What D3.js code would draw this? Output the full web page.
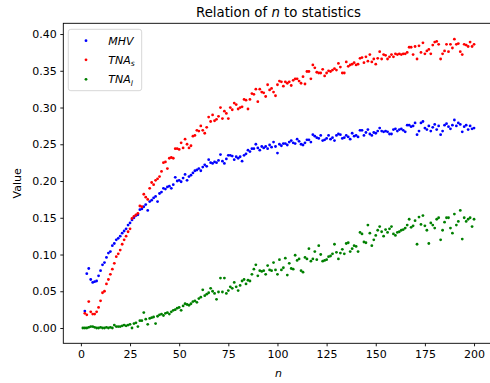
<!DOCTYPE html>
<html lang="en">
<head>
<meta charset="UTF-8">
<title>Relation of n to statistics</title>
<script src="https://d3js.org/d3.v7.min.js"></script>
<style>
    body { margin: 0; background: #fff; }
    text { font-family: "DejaVu Sans", sans-serif; fill: #000; }
</style>
</head>
<body>
<svg id="chart"></svg>
<script>

    // MHV and TNA_s start at n = 2, TNA_l at n = 1
    const mhv = [
        0.023,0.074,0.081,0.066,0.062,0.063,0.064,0.071,
        0.078,0.086,0.089,0.096,0.102,0.104,0.112,0.115,0.120,0.122,
        0.125,0.129,0.132,0.135,0.140,0.143,0.147,0.150,0.153,0.154,
        0.161,0.162,0.165,0.168,0.160,0.172,0.174,0.177,0.179,0.172,
        0.183,0.185,0.190,0.189,0.192,0.193,0.190,0.195,0.205,0.200,
        0.201,0.199,0.204,0.209,0.201,0.206,0.208,0.211,0.214,0.215,
        0.217,0.214,0.219,0.222,0.220,0.229,0.225,0.224,0.226,0.225,
        0.228,0.236,0.227,0.224,0.230,0.235,0.235,0.234,0.229,0.233,
        0.231,0.233,0.227,0.235,0.237,0.242,0.240,0.244,0.244,0.250,
        0.245,0.242,0.247,0.245,0.247,0.244,0.249,0.246,0.253,0.247,
        0.238,0.250,0.248,0.251,0.251,0.249,0.253,0.255,0.252,0.251,
        0.257,0.254,0.250,0.249,0.252,0.256,0.256,0.253,0.263,0.261,
        0.259,0.258,0.262,0.255,0.256,0.258,0.262,0.257,0.259,0.255,
        0.262,0.264,0.263,0.258,0.259,0.262,0.260,0.257,0.265,0.261,
        0.262,0.260,0.269,0.269,0.262,0.266,0.270,0.264,0.262,0.266,
        0.265,0.268,0.272,0.268,0.267,0.268,0.267,0.264,0.264,0.270,
        0.271,0.268,0.270,0.271,0.269,0.267,0.276,0.276,0.274,0.275,
        0.279,0.263,0.268,0.279,0.281,0.272,0.270,0.275,0.268,0.273,
        0.277,0.270,0.275,0.263,0.268,0.276,0.278,0.274,0.271,0.276,
        0.283,0.275,0.279,0.277,0.267,0.274,0.276,0.270,0.275,0.271,0.272
    ];
    const tnaS = [
        0.020,0.018,0.036,0.022,0.019,0.019,0.022,0.028,
        0.037,0.048,0.050,0.060,0.066,0.073,0.080,0.088,0.097,0.101,
        0.106,0.114,0.120,0.125,0.131,0.135,0.149,0.152,0.154,0.156,
        0.166,0.165,0.182,0.178,0.175,0.190,0.198,0.195,0.201,0.203,
        0.206,0.213,0.225,0.226,0.217,0.231,0.232,0.231,0.244,0.244,
        0.243,0.252,0.245,0.257,0.250,0.245,0.248,0.261,0.262,0.269,
        0.268,0.275,0.269,0.265,0.273,0.287,0.281,0.290,0.282,0.284,
        0.288,0.300,0.285,0.295,0.292,0.285,0.300,0.297,0.306,0.304,
        0.298,0.300,0.301,0.311,0.310,0.298,0.311,0.319,0.318,0.325,
        0.308,0.325,0.321,0.320,0.315,0.331,0.324,0.326,0.321,0.316,
        0.331,0.336,0.335,0.329,0.335,0.333,0.335,0.330,0.337,0.339,
        0.339,0.336,0.333,0.342,0.332,0.349,0.349,0.339,0.358,0.354,
        0.348,0.347,0.347,0.352,0.343,0.347,0.350,0.349,0.351,0.353,
        0.351,0.360,0.355,0.347,0.347,0.362,0.356,0.358,0.359,0.361,
        0.358,0.359,0.367,0.368,0.361,0.369,0.363,0.372,0.362,0.366,
        0.359,0.367,0.376,0.366,0.372,0.371,0.366,0.369,0.372,0.369,
        0.373,0.372,0.373,0.372,0.373,0.373,0.375,0.382,0.382,0.372,
        0.383,0.366,0.384,0.375,0.388,0.373,0.377,0.379,0.373,0.385,
        0.389,0.390,0.386,0.366,0.373,0.377,0.386,0.376,0.386,0.381,
        0.393,0.386,0.387,0.376,0.372,0.386,0.385,0.383,0.389,0.383,0.386
    ];
    const tnaL = [
        0.000,0.000,0.000,0.001,0.002,0.002,0.001,0.000,0.000,0.001,
        0.000,0.000,0.001,0.000,0.001,0.000,0.004,0.002,0.002,0.002,
        0.003,0.004,0.003,0.004,0.005,0.000,0.006,0.007,0.002,0.010,
        0.010,0.021,0.012,0.005,0.013,0.014,0.015,0.006,0.016,0.018,
        0.019,0.017,0.020,0.021,0.019,0.022,0.024,0.025,0.027,0.028,
        0.024,0.030,0.033,0.032,0.031,0.033,0.036,0.037,0.035,0.040,
        0.042,0.052,0.044,0.046,0.048,0.054,0.050,0.047,0.039,0.049,
        0.068,0.049,0.068,0.047,0.051,0.056,0.054,0.062,0.056,0.051,
        0.058,0.064,0.066,0.060,0.065,0.064,0.073,0.080,0.086,0.071,
        0.078,0.077,0.078,0.073,0.085,0.079,0.078,0.089,0.079,0.073,
        0.093,0.079,0.082,0.095,0.072,0.088,0.081,0.080,0.099,0.092,
        0.094,0.078,0.076,0.096,0.094,0.108,0.091,0.094,0.104,0.093,
        0.112,0.100,0.091,0.092,0.093,0.097,0.098,0.101,0.114,0.103,
        0.094,0.102,0.107,0.101,0.115,0.116,0.104,0.108,0.112,0.111,
        0.104,0.130,0.128,0.117,0.116,0.140,0.129,0.112,0.120,0.126,
        0.133,0.138,0.131,0.125,0.134,0.130,0.135,0.138,0.128,0.126,
        0.130,0.131,0.133,0.134,0.136,0.140,0.148,0.137,0.139,0.146,
        0.114,0.151,0.141,0.153,0.139,0.133,0.115,0.143,0.140,0.136,
        0.148,0.150,0.120,0.133,0.144,0.150,0.150,0.136,0.129,0.155,
        0.140,0.145,0.160,0.121,0.150,0.145,0.148,0.150,0.138,0.148
    ];

    const xTicks = [0, 25, 50, 75, 100, 125, 150, 175, 200];
    const yTicks = [0, 0.05, 0.10, 0.15, 0.20, 0.25, 0.30, 0.35, 0.40];

    const series = [
        {name: "MHV", sub: "", start: 2, values: mhv, colour: "#0000ff"},
        {name: "TNA", sub: "s", start: 2, values: tnaS, colour: "#ff0000"},
        {name: "TNA", sub: "l", start: 1, values: tnaL, colour: "#008000"}
    ];

    const width = 490, height = 383;
    const margin = {left: 63.3, top: 23.3, bottom: 343.3};

    let svg = d3.select('#chart')
        .attr('width', width)
        .attr('height', height);

    // matplotlib style 5% padding around the data
    let x = d3.scaleLinear().domain([-8.95, 209.95]).range([margin.left, 493.6]);
    let y = d3.scaleLinear().domain([-0.0208, 0.4146]).range([margin.bottom, margin.top]);

    // points
    series.forEach((s) => {
        svg.append('g')
            .selectAll('circle')
            .data(s.values.map((v, i) => ({n: i + s.start, v: v})))
            .enter()
            .append('circle')
            .attr('cx', d => x(d.n))
            .attr('cy', d => y(d.v))
            .attr('r', 1.4)
            .attr('fill', s.colour);
    });

    // frame
    svg.append('rect')
        .attr('x', x.range()[0])
        .attr('y', margin.top)
        .attr('width', x.range()[1] - x.range()[0])
        .attr('height', margin.bottom - margin.top)
        .attr('fill', 'none')
        .attr('stroke', '#000')
        .attr('stroke-width', 0.9);

    let xAxis = svg.append('g')
        .attr('transform', `translate(0,${margin.bottom})`)
        .call(d3.axisBottom(x).tickValues(xTicks).tickSize(3).tickPadding(3.5).tickFormat(d3.format('d')));
    let yAxis = svg.append('g')
        .attr('transform', `translate(${margin.left},0)`)
        .call(d3.axisLeft(y).tickValues(yTicks).tickSize(3).tickPadding(3.5).tickFormat(d3.format('.2f')));

    [xAxis, yAxis].forEach((g) => {
        g.select('.domain').remove();
        g.selectAll('line').attr('stroke', '#000').attr('stroke-width', 0.9);
        g.selectAll('text')
            .style('font-family', '"DejaVu Sans", sans-serif')
            .style('font-size', '11px')
            .attr('fill', '#000');
    });

    // title
    let title = svg.append('text')
        .attr('x', (x.range()[0] + x.range()[1]) / 2)
        .attr('y', 16.5)
        .attr('text-anchor', 'middle')
        .style('font-size', '13.3px');
    title.append('tspan').text('Relation of ');
    title.append('tspan').style('font-style', 'italic').text('n');
    title.append('tspan').text(' to statistics');

    // axis labels
    svg.append('text')
        .attr('x', (x.range()[0] + x.range()[1]) / 2)
        .attr('y', 377)
        .attr('text-anchor', 'middle')
        .style('font-size', '11px')
        .style('font-style', 'italic')
        .text('n');

    svg.append('text')
        .attr('transform', `translate(20.5,${(margin.top + margin.bottom) / 2}) rotate(-90)`)
        .attr('text-anchor', 'middle')
        .style('font-size', '11px')
        .text('Value');

    // legend
    let legend = svg.append('g');
    legend.append('rect')
        .attr('x', 68.3)
        .attr('y', 29.3)
        .attr('width', 73.4)
        .attr('height', 61.4)
        .attr('rx', 2.5)
        .attr('fill', '#fff')
        .attr('fill-opacity', 0.8)
        .attr('stroke', '#cccccc')
        .attr('stroke-width', 0.8);

    const legendY = [40.7, 59.8, 79.3];
    series.forEach((s, i) => {
        legend.append('circle')
            .attr('cx', 86)
            .attr('cy', legendY[i])
            .attr('r', 1.4)
            .attr('fill', s.colour);
        let t = legend.append('text')
            .attr('x', 108.3)
            .attr('y', legendY[i] + 4)
            .style('font-size', '11px')
            .style('font-style', 'italic');
        t.append('tspan').text(s.name);
        if (s.sub) {
            t.append('tspan')
                .attr('dy', 2.5)
                .style('font-size', '7.7px')
                .text(s.sub);
        }
    });

</script>
</body>
</html>
